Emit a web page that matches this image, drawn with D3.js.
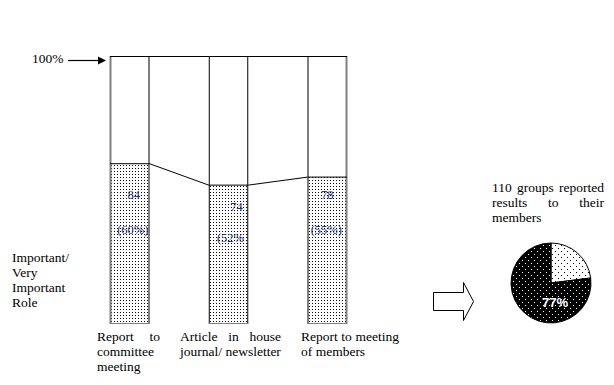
<!DOCTYPE html>
<html lang="en">
<head>
<meta charset="UTF-8">
<title>Reporting results to members</title>
<script src="https://d3js.org/d3.v7.min.js"></script>
<style>
    body { margin: 0; background: #fff; }
    svg { display: block; }
    svg text { font-size: 13.5px; fill: #000; }
    svg text.bar-label { font-size: 12.5px; fill: #22337f; }
    svg text.pie-label { font-weight: bold; font-size: 13px; fill: #fff; }
</style>
</head>
<body>
<div id="chart"></div>
<script>
// data
const categories = ["Report to committee meeting", "Article in house journal/ newsletter", "Report to meeting of members"];
const categoryLines = [["Report to", "committee", "meeting"], ["Article in house", "journal/ newsletter"], ["Report to meeting", "of members"]];
const groupCounts = [84, 74, 78];
const groupPercents = [60, 52, 55];
const pieLabels = ["Did not report", "Reported"];
const pieValues = [23, 77];
const pieTitle = ["110 groups reported", "results to their", "members"];
const roleLabel = ["Important/", "Very", "Important", "Role"];

const width = 614, height = 385;
const serif = "'Liberation Serif', 'Times New Roman', Times, serif";
const sans = "'Liberation Sans', Arial, Helvetica, sans-serif";

const svg = d3.select("#chart").append("svg")
    .attr("width", width)
    .attr("height", height)
    .attr("font-family", serif);

// patterns
const defs = svg.append("defs");
const dense = defs.append("pattern").attr("id", "dense")
    .attr("width", 3).attr("height", 3).attr("patternUnits", "userSpaceOnUse");
dense.append("rect").attr("width", 3).attr("height", 3).attr("fill", "#fff");
dense.append("rect").attr("width", 1).attr("height", 1).attr("fill", "#000");

function sparse(id, bg, fg) {
    const p = defs.append("pattern").attr("id", id)
        .attr("width", 6).attr("height", 6).attr("patternUnits", "userSpaceOnUse");
    p.append("rect").attr("width", 6).attr("height", 6).attr("fill", bg);
    p.append("rect").attr("x", 1).attr("y", 1).attr("width", 1).attr("height", 1).attr("fill", fg);
    p.append("rect").attr("x", 4).attr("y", 4).attr("width", 1).attr("height", 1).attr("fill", fg);
}
sparse("dotsWhite", "#fff", "#000");
sparse("dotsBlack", "#000", "#fff");

// scales
const x = d3.scaleBand().domain(categories).range([110, 347]).paddingInner(0.6).paddingOuter(0);
const y = d3.scaleLinear().domain([0, 100]).range([324, 56]);

// justified text helper (like the word-processor layout)
function justified(g, lines, x0, w, y0, lh) {
    lines.forEach((line, i) => {
        const words = line.split(" ");
        const last = i === lines.length - 1;
        const nodes = words.map(wd => g.append("text").attr("font-family", serif).attr("y", y0 + i * lh).text(wd));
        const widths = nodes.map(n => n.node().getComputedTextLength());
        let gap = 3.4;
        if (!last && words.length > 1) {
            gap = (w - d3.sum(widths)) / (words.length - 1);
        }
        let cx = x0;
        nodes.forEach((n, k) => { n.attr("x", cx); cx += widths[k] + gap; });
    });
}

// 100% frame with shaded share
const frame = svg.append("g");
categories.forEach((c, i) => {
    frame.append("rect")
        .attr("x", x(c)).attr("y", y(100))
        .attr("width", x.bandwidth()).attr("height", y(0) - y(100))
        .attr("fill", "#fff");
    frame.append("rect")
        .attr("x", x(c)).attr("y", y(groupPercents[i]))
        .attr("width", x.bandwidth())
        .attr("height", y(0) - y(groupPercents[i]))
        .attr("fill", "url(#dense)");
});
categories.forEach((c, i) => {
    const b = x(c) + 0.5;
    frame.append("line").attr("x1", b).attr("x2", b).attr("y1", y(100)).attr("y2", y(0))
        .attr("stroke", i === 0 ? "#808080" : "#000").attr("stroke-width", i === 0 ? 2 : 1);
    const e = x(c) + x.bandwidth() - 0.5;
    frame.append("line").attr("x1", e).attr("x2", e).attr("y1", y(100)).attr("y2", y(0))
        .attr("stroke", i === 2 ? "#808080" : "#000").attr("stroke-width", i === 2 ? 2 : 1);
    frame.append("line")
        .attr("x1", x(c)).attr("x2", x(c) + x.bandwidth())
        .attr("y1", y(0) - 0.5).attr("y2", y(0) - 0.5)
        .attr("stroke", "#808080").attr("stroke-width", 1);
    frame.append("line")
        .attr("x1", x(c)).attr("x2", x(c) + x.bandwidth())
        .attr("y1", y(groupPercents[i]) + 0.5).attr("y2", y(groupPercents[i]) + 0.5)
        .attr("stroke", "#000");
});
frame.append("line")
    .attr("x1", x(categories[0])).attr("x2", x(categories[2]) + x.bandwidth())
    .attr("y1", y(100) + 0.5).attr("y2", y(100) + 0.5)
    .attr("stroke", "#000");

// connector lines between bar tops
for (let i = 0; i < categories.length - 1; i++) {
    svg.append("line")
        .attr("x1", x(categories[i]) + x.bandwidth()).attr("y1", y(groupPercents[i]) + 0.5)
        .attr("x2", x(categories[i + 1])).attr("y2", y(groupPercents[i + 1]) + 0.5)
        .attr("stroke", "#000").attr("stroke-width", 1);
}

// value labels inside bars
const countDy = [36, 26, 22];
const pctDy = [71, 57, 57];
const labelDx = [4, 8, 0];
categories.forEach((c, i) => {
    const cx = x(c) + x.bandwidth() / 2 + labelDx[i];
    svg.append("text").attr("class", "bar-label").attr("font-family", serif)
        .attr("x", cx).attr("y", y(groupPercents[i]) + countDy[i])
        .attr("text-anchor", "middle").text(groupCounts[i]);
    svg.append("text").attr("class", "bar-label").attr("font-family", serif)
        .attr("x", cx - (i === 1 ? 6 : 1)).attr("y", y(groupPercents[i]) + pctDy[i])
        .attr("text-anchor", "middle")
        .text(i === 1 ? "(" + groupPercents[i] + "%" : "(" + groupPercents[i] + "%)");
});

// 100% marker
svg.append("text").attr("font-family", serif).attr("x", 32).attr("y", y(100) + 7).text("100%");
svg.append("line").attr("x1", 68).attr("x2", 100).attr("y1", y(100) + 4.5).attr("y2", y(100) + 4.5)
    .attr("stroke", "#000").attr("stroke-width", 1.2);
svg.append("path")
    .attr("d", `M${x(categories[0]) - 4},${y(100) + 4.5} l-8,-4 l0,8 z`)
    .attr("fill", "#000");

// role label
roleLabel.forEach((t, i) => {
    svg.append("text").attr("font-family", serif).attr("x", 12).attr("y", 262 + i * 15).text(t);
});

// category labels
const colX = [97, 180, 301];
const colW = [63, 101, 98];
categoryLines.forEach((lines, i) => {
    justified(svg.append("g"), lines, colX[i], colW[i], 341, 15);
});

// block arrow
svg.append("path")
    .attr("d", "M433.5,292.5 L463.5,292.5 L463.5,282.5 L473.5,301.5 L463.5,320.5 L463.5,310.5 L433.5,310.5 Z")
    .attr("fill", "#fff").attr("stroke", "#000").attr("stroke-width", 1);

// pie
const pieCx = 551, pieCy = 283, pieR = 40;
const pie = d3.pie().sort(null).startAngle(0).endAngle(2 * Math.PI);
const arc = d3.arc().innerRadius(0).outerRadius(pieR);
const pg = svg.append("g").attr("transform", `translate(${pieCx},${pieCy})`);
pg.selectAll("path").data(pie(pieValues)).join("path")
    .attr("d", arc)
    .attr("fill", (d, i) => i === 0 ? "url(#dotsWhite)" : "url(#dotsBlack)")
    .attr("stroke", "#000").attr("stroke-width", 1);
pg.append("text").attr("class", "pie-label").attr("font-family", sans)
    .attr("x", 4).attr("y", 24)
    .attr("text-anchor", "middle")
    .text(pieValues[1] + "%");

// pie title
justified(svg.append("g"), pieTitle, 492, 112, 192, 15);
</script>
</body>
</html>
